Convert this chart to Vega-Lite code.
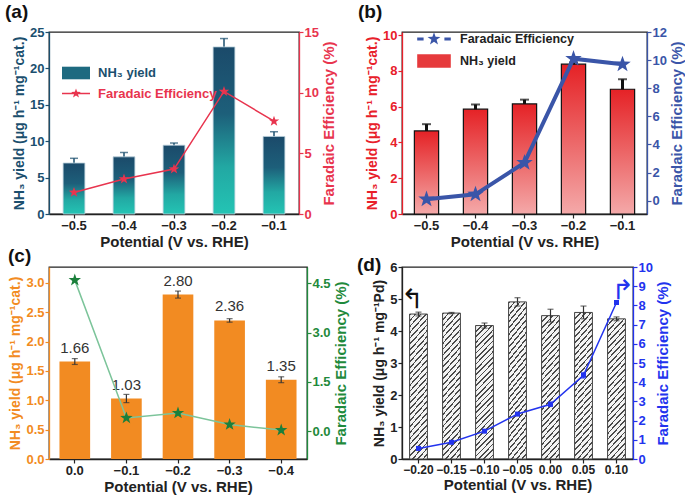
{
"$schema": "https://vega.github.io/schema/vega-lite/v6.json",
"background": "white",
"padding": {"left": 4, "top": 2, "right": 0, "bottom": 0},
"bounds": "flush",
"columns": 2,
"spacing": {"row": 53, "column": 95},
"resolve": {"scale": {"x": "independent", "y": "independent", "color": "independent", "shape": "independent"}, "axis": {"x": "independent", "y": "independent"}, "legend": {"color": "independent", "shape": "independent"}},
"config": {
  "font": "Liberation Sans",
  "view": {"stroke": "#222", "strokeWidth": 1.3},
  "axis": {"labelFont": "Liberation Sans", "titleFont": "Liberation Sans", "labelFontWeight": "bold", "titleFontWeight": "bold", "labelFontSize": 13, "titleFontSize": 14, "grid": false, "tickSize": 4, "tickWidth": 1.2, "domainWidth": 1.3, "domainColor": "#222", "tickColor": "#222", "labelColor": "#222", "titleColor": "#222", "labelPadding": 1, "titlePadding": 3, "labelOverlap": false},
  "axisX": {"labelAngle": 0, "titleFontSize": 15, "titlePadding": 2},
  "title": {"fontSize": 19, "fontWeight": "bold", "font": "Liberation Sans", "anchor": "start", "frame": "group", "offset": 4, "color": "#111"}
},
"concat": [
{
  "width": 250, "height": 182,
  "title": {"text": "(a)", "dx": -44},
  "data": {"values": [
    {"p": "−0.5", "y": 7.0, "e": 0.65, "fe": 1.78, "s": "Faradaic Efficiency"},
    {"p": "−0.4", "y": 7.85, "e": 0.6, "fe": 2.88, "s": "Faradaic Efficiency"},
    {"p": "−0.3", "y": 9.45, "e": 0.3, "fe": 3.7, "s": "Faradaic Efficiency"},
    {"p": "−0.2", "y": 22.95, "e": 1.15, "fe": 10.1, "s": "Faradaic Efficiency"},
    {"p": "−0.1", "y": 10.65, "e": 0.65, "fe": 7.65, "s": "Faradaic Efficiency"}
  ]},
  "encoding": {"x": {"field": "p", "type": "ordinal", "scale": {"domain": ["−0.5", "−0.4", "−0.3", "−0.2", "−0.1"]}, "axis": {"title": "Potential (V vs. RHE)"}}},
  "layer": [
    {"layer": [
      {"mark": {"type": "errorbar", "color": "#1b4f6e", "ticks": {"size": 8, "thickness": 1.5}, "rule": {"strokeWidth": 1.5}},
       "encoding": {"y": {"field": "y", "type": "quantitative", "title": "NH₃ yield (μg h⁻¹ mg⁻¹cat.)", "scale": {"domain": [0, 25], "nice": false}, "axis": {"values": [0, 5, 10, 15, 20, 25], "domainColor": "#1b4f6e", "tickColor": "#1b4f6e", "labelColor": "#1b4f6e", "titleColor": "#1b4f6e"}}, "yError": {"field": "e"}}},
      {"mark": {"type": "bar", "width": {"band": 0.58}, "color": {"gradient": "linear", "x1": 0, "y1": 0, "x2": 0, "y2": 1, "stops": [{"offset": 0, "color": "#1b4a6a"}, {"offset": 0.4, "color": "#1d5f7a"}, {"offset": 0.72, "color": "#22a8a3"}, {"offset": 1, "color": "#24c4b4"}]}, "stroke": "#b9cfdb", "strokeWidth": 0.8},
       "encoding": {"y": {"field": "y", "type": "quantitative", "title": "NH₃ yield (μg h⁻¹ mg⁻¹cat.)", "scale": {"domain": [0, 25], "nice": false}, "axis": {"values": [0, 5, 10, 15, 20, 25], "domainColor": "#1b4f6e", "tickColor": "#1b4f6e", "labelColor": "#1b4f6e", "titleColor": "#1b4f6e"}}}}
    ]},
    {"layer": [
      {"mark": {"type": "line", "strokeWidth": 1.5, "color": "#e8344e"},
       "encoding": {
         "y": {"field": "fe", "type": "quantitative", "title": "Faradaic Efficiency (%)", "scale": {"domain": [0, 15], "nice": false}, "axis": {"orient": "right", "values": [0, 5, 10, 15], "domainColor": "#e8344e", "tickColor": "#e8344e", "labelColor": "#e8344e", "titleColor": "#e8344e", "titleAngle": -90, "titleBaseline": "top", "titleFontSize": 15}}}},
      {"mark": {"type": "point", "filled": true, "opacity": 1},
       "encoding": {
         "y": {"field": "fe", "type": "quantitative", "title": "Faradaic Efficiency (%)", "scale": {"domain": [0, 15], "nice": false}, "axis": {"orient": "right", "values": [0, 5, 10, 15], "domainColor": "#e8344e", "tickColor": "#e8344e", "labelColor": "#e8344e", "titleColor": "#e8344e", "titleAngle": -90, "titleBaseline": "top", "titleFontSize": 15}},
         "color": {"field": "s", "type": "nominal", "scale": {"domain": ["NH₃ yield", "Faradaic Efficiency"], "range": ["#1e6a80", "#e8344e"]},
           "legend": {"title": null, "orient": "none", "legendX": 19, "legendY": 33, "padding": 0, "rowPadding": 1.5, "symbolSize": 196, "labelOffset": 14, "labelFontSize": 13, "labelFontWeight": "bold", "labelFont": "Liberation Sans", "labelColor": {"expr": "datum.value === 'NH₃ yield' ? '#1b4f6e' : '#e8344e'"}, "symbolOpacity": 1}},
         "shape": {"field": "s", "type": "nominal", "scale": {"domain": ["NH₃ yield", "Faradaic Efficiency"], "range": ["M-2,-0.9H2V0.9H-2Z", "M-2,-0.1H2V0.1H-2Z M0,-0.72L0.169,-0.233L0.685,-0.222L0.274,0.089L0.423,0.582L0,0.288L-0.423,0.582L-0.274,0.089L-0.685,-0.222L-0.169,-0.233Z"]},
           "legend": {"title": null, "orient": "none", "legendX": 19, "legendY": 33, "padding": 0, "rowPadding": 1.5, "symbolSize": 196, "labelOffset": 14, "labelFontSize": 13, "labelFontWeight": "bold", "labelFont": "Liberation Sans", "labelColor": {"expr": "datum.value === 'NH₃ yield' ? '#1b4f6e' : '#e8344e'"}, "symbolOpacity": 1}},
         "size": {"value": 0}}},
      {"mark": {"type": "point", "shape": "M0,-1L0.235,-0.324L0.951,-0.309L0.38,0.124L0.588,0.809L0,0.4L-0.588,0.809L-0.38,0.124L-0.951,-0.309L-0.235,-0.324Z", "filled": true, "size": 121, "opacity": 1, "color": "#e8344e"},
       "encoding": {"y": {"field": "fe", "type": "quantitative", "title": "Faradaic Efficiency (%)", "scale": {"domain": [0, 15], "nice": false}, "axis": {"orient": "right", "values": [0, 5, 10, 15], "domainColor": "#e8344e", "tickColor": "#e8344e", "labelColor": "#e8344e", "titleColor": "#e8344e", "titleAngle": -90, "titleBaseline": "top", "titleFontSize": 15}}}}
    ]}
  ],
  "resolve": {"scale": {"y": "independent"}}
},
{
  "width": 245, "height": 182,
  "title": {"text": "(b)", "dx": -44},
  "data": {"values": [
    {"p": "−0.5", "y": 4.64, "e": 0.38, "fe": 0.1, "s": "Faradaic Efficiency"},
    {"p": "−0.4", "y": 5.86, "e": 0.26, "fe": 0.45, "s": "Faradaic Efficiency"},
    {"p": "−0.3", "y": 6.15, "e": 0.24, "fe": 2.7, "s": "Faradaic Efficiency"},
    {"p": "−0.2", "y": 8.37, "e": 0.1, "fe": 10.1, "s": "Faradaic Efficiency"},
    {"p": "−0.1", "y": 6.97, "e": 0.56, "fe": 9.7, "s": "Faradaic Efficiency"}
  ]},
  "encoding": {"x": {"field": "p", "type": "ordinal", "scale": {"domain": ["−0.5", "−0.4", "−0.3", "−0.2", "−0.1"]}, "axis": {"title": "Potential (V vs. RHE)"}}},
  "layer": [
    {"layer": [
      {"mark": {"type": "errorbar", "color": "#111", "ticks": {"size": 9, "thickness": 2}, "rule": {"strokeWidth": 3}},
       "encoding": {"y": {"field": "y", "type": "quantitative", "title": "NH₃ yield (μg h⁻¹ mg⁻¹cat.)", "scale": {"domain": [0, 10.17], "nice": false}, "axis": {"values": [0, 2, 4, 6, 8, 10], "domainColor": "#e8202a", "tickColor": "#e8202a", "labelColor": "#e8202a", "titleColor": "#e8202a"}}, "yError": {"field": "e"}}},
      {"mark": {"type": "bar", "width": {"band": 0.66}, "color": {"gradient": "linear", "x1": 0, "y1": 0, "x2": 0, "y2": 1, "stops": [{"offset": 0, "color": "#e52226"}, {"offset": 0.5, "color": "#ec6566"}, {"offset": 1, "color": "#f4a9a9"}]}, "stroke": "#111", "strokeWidth": 1.2},
       "encoding": {"y": {"field": "y", "type": "quantitative", "title": "NH₃ yield (μg h⁻¹ mg⁻¹cat.)", "scale": {"domain": [0, 10.17], "nice": false}, "axis": {"values": [0, 2, 4, 6, 8, 10], "domainColor": "#e8202a", "tickColor": "#e8202a", "labelColor": "#e8202a", "titleColor": "#e8202a"}}}}
    ]},
    {"layer": [
      {"mark": {"type": "line", "strokeWidth": 4, "color": "#3a55a8"},
       "encoding": {
         "y": {"field": "fe", "type": "quantitative", "title": "Faradaic Efficiency (%)", "scale": {"domain": [-0.95, 12], "nice": false, "zero": false}, "axis": {"orient": "right", "values": [0, 2, 4, 6, 8, 10, 12], "domainColor": "#3a55a8", "tickColor": "#3a55a8", "labelColor": "#3a55a8", "titleColor": "#3a55a8", "titleAngle": -90, "titleBaseline": "top", "titleFontSize": 15}}}},
      {"mark": {"type": "point", "filled": true, "opacity": 1},
       "encoding": {
         "y": {"field": "fe", "type": "quantitative", "title": "Faradaic Efficiency (%)", "scale": {"domain": [-0.95, 12], "nice": false, "zero": false}, "axis": {"orient": "right", "values": [0, 2, 4, 6, 8, 10, 12], "domainColor": "#3a55a8", "tickColor": "#3a55a8", "labelColor": "#3a55a8", "titleColor": "#3a55a8", "titleAngle": -90, "titleBaseline": "top", "titleFontSize": 15}},
         "color": {"field": "s", "type": "nominal", "scale": {"domain": ["Faradaic Efficiency", "NH₃ yield"], "range": ["#3a55a8", "#e63a3c"]},
           "legend": {"title": null, "orient": "none", "legendX": 23, "legendY": -2, "padding": 0, "rowPadding": 3, "symbolSize": 256, "labelOffset": 17, "labelFontSize": 12.5, "labelFontWeight": "bold", "labelFont": "Liberation Sans", "labelColor": "#222", "symbolOpacity": 1}},
         "shape": {"field": "s", "type": "nominal", "scale": {"domain": ["Faradaic Efficiency", "NH₃ yield"], "range": ["M-2.1,-0.2H-1.3V0.2H-2.1Z M1.3,-0.2H2.1V0.2H1.3Z M0,-0.85L0.2,-0.275L0.808,-0.263L0.323,0.105L0.5,0.688L0,0.34L-0.5,0.688L-0.323,0.105L-0.808,-0.263L-0.2,-0.275Z", "M-2.1,-0.85H2.1V0.85H-2.1Z"]},
           "legend": {"title": null, "orient": "none", "legendX": 23, "legendY": -2, "padding": 0, "rowPadding": 3, "symbolSize": 256, "labelOffset": 17, "labelFontSize": 12.5, "labelFontWeight": "bold", "labelFont": "Liberation Sans", "labelColor": "#222", "symbolOpacity": 1}},
         "size": {"value": 0}}},
      {"mark": {"type": "point", "shape": "M0,-1L0.235,-0.324L0.951,-0.309L0.38,0.124L0.588,0.809L0,0.4L-0.588,0.809L-0.38,0.124L-0.951,-0.309L-0.235,-0.324Z", "filled": true, "size": 300, "opacity": 1, "color": "#3a55a8"},
       "encoding": {"y": {"field": "fe", "type": "quantitative", "title": "Faradaic Efficiency (%)", "scale": {"domain": [-0.95, 12], "nice": false, "zero": false}, "axis": {"orient": "right", "values": [0, 2, 4, 6, 8, 10, 12], "domainColor": "#3a55a8", "tickColor": "#3a55a8", "labelColor": "#3a55a8", "titleColor": "#3a55a8", "titleAngle": -90, "titleBaseline": "top", "titleFontSize": 15}}}}
    ]}
  ],
  "resolve": {"scale": {"y": "independent"}}
},
{
  "width": 258, "height": 192,
  "title": {"text": "(c)", "dx": -41, "offset": 1},
  "data": {"values": [
    {"p": "0.0", "y": 1.66, "e": 0.05, "fe": 4.6},
    {"p": "−0.1", "y": 1.03, "e": 0.07, "fe": 0.4},
    {"p": "−0.2", "y": 2.8, "e": 0.06, "fe": 0.55},
    {"p": "−0.3", "y": 2.36, "e": 0.03, "fe": 0.2},
    {"p": "−0.4", "y": 1.35, "e": 0.05, "fe": 0.03}
  ]},
  "encoding": {"x": {"field": "p", "type": "ordinal", "scale": {"domain": ["0.0", "−0.1", "−0.2", "−0.3", "−0.4"]}, "axis": {"title": "Potential (V vs. RHE)"}}},
  "layer": [
    {"layer": [
      {"mark": {"type": "bar", "width": {"band": 0.66}, "color": "#f28b22"},
       "encoding": {"y": {"field": "y", "type": "quantitative", "title": "NH₃ yield (μg h⁻¹ mg⁻¹cat.)", "scale": {"domain": [0, 3.27], "nice": false}, "axis": {"values": [0, 0.5, 1, 1.5, 2, 2.5, 3], "format": ".1f", "domainColor": "#f28b22", "tickColor": "#f28b22", "labelColor": "#f28b22", "titleColor": "#f28b22"}}}},
      {"mark": {"type": "errorbar", "color": "#333", "ticks": {"size": 6, "thickness": 1.2}, "rule": {"strokeWidth": 1.2}},
       "encoding": {"y": {"field": "y", "type": "quantitative", "title": "NH₃ yield (μg h⁻¹ mg⁻¹cat.)", "scale": {"domain": [0, 3.27], "nice": false}, "axis": {"values": [0, 0.5, 1, 1.5, 2, 2.5, 3], "format": ".1f", "domainColor": "#f28b22", "tickColor": "#f28b22", "labelColor": "#f28b22", "titleColor": "#f28b22"}}, "yError": {"field": "e"}}},
      {"mark": {"type": "text", "baseline": "bottom", "dy": -6, "fontSize": 15, "color": "#333", "font": "Liberation Sans"},
       "encoding": {"y": {"field": "y", "type": "quantitative", "title": "NH₃ yield (μg h⁻¹ mg⁻¹cat.)", "scale": {"domain": [0, 3.27], "nice": false}, "axis": {"values": [0, 0.5, 1, 1.5, 2, 2.5, 3], "format": ".1f", "domainColor": "#f28b22", "tickColor": "#f28b22", "labelColor": "#f28b22", "titleColor": "#f28b22"}}, "text": {"field": "y", "type": "quantitative", "format": ".2f"}}}
    ]},
    {"layer": [
      {"mark": {"type": "line", "strokeWidth": 1.5, "color": "#7cc49a"},
       "encoding": {"y": {"field": "fe", "type": "quantitative", "title": "Faradaic Efficiency (%)", "scale": {"domain": [-0.85, 5.0], "nice": false, "zero": false}, "axis": {"orient": "right", "values": [0, 1.5, 3, 4.5], "format": ".1f", "domainColor": "#1f8a3c", "tickColor": "#1f8a3c", "labelColor": "#1f8a3c", "titleColor": "#1f8a3c", "titleAngle": -90, "titleBaseline": "top", "titleFontSize": 15}}}},
      {"mark": {"type": "point", "shape": "M0,-1L0.235,-0.324L0.951,-0.309L0.38,0.124L0.588,0.809L0,0.4L-0.588,0.809L-0.38,0.124L-0.951,-0.309L-0.235,-0.324Z", "filled": true, "size": 170, "opacity": 1, "color": "#1b7f3b"},
       "encoding": {"y": {"field": "fe", "type": "quantitative", "title": "Faradaic Efficiency (%)", "scale": {"domain": [-0.85, 5.0], "nice": false, "zero": false}, "axis": {"orient": "right", "values": [0, 1.5, 3, 4.5], "format": ".1f", "domainColor": "#1f8a3c", "tickColor": "#1f8a3c", "labelColor": "#1f8a3c", "titleColor": "#1f8a3c", "titleAngle": -90, "titleBaseline": "top", "titleFontSize": 15}}}}
    ]}
  ],
  "resolve": {"scale": {"y": "independent"}}
},
{
  "width": 231, "height": 192,
  "title": {"text": "(d)", "dx": -45, "dy": 18},
  "data": {"values": [
    {"p": "−0.20", "y": 4.53, "e": 0.06, "fe": 0.55, "fee": 0.06},
    {"p": "−0.15", "y": 4.56, "e": 0.02, "fe": 0.87, "fee": 0.06},
    {"p": "−0.10", "y": 4.17, "e": 0.08, "fe": 1.45, "fee": 0.06},
    {"p": "−0.05", "y": 4.91, "e": 0.13, "fe": 2.34, "fee": 0.08},
    {"p": "0.00", "y": 4.48, "e": 0.2, "fe": 2.85, "fee": 0.12},
    {"p": "0.05", "y": 4.58, "e": 0.2, "fe": 4.36, "fee": 0.15},
    {"p": "0.10", "y": 4.38, "e": 0.06, "fe": 8.15, "fee": 0.1}
  ]},
  "encoding": {"x": {"field": "p", "type": "ordinal", "scale": {"domain": ["−0.20", "−0.15", "−0.10", "−0.05", "0.00", "0.05", "0.10"]}, "axis": {"title": "Potential (V vs. RHE)", "labelFontSize": 12}}},
  "layer": [
    {"layer": [
      {"mark": {"type": "bar", "width": {"band": 0.6}, "stroke": "#444", "strokeWidth": 1, "color": {"gradient": "linear", "x1": 0, "y1": 0, "x2": 0.154, "y2": 1.117, "stops": [
        {"offset": 0, "color": "#4a4a4a"}, {"offset": 0.011, "color": "#4a4a4a"}, {"offset": 0.011, "color": "#f4f4f4"},
        {"offset": 0.0357, "color": "#f4f4f4"}, {"offset": 0.0357, "color": "#4a4a4a"}, {"offset": 0.0467, "color": "#4a4a4a"}, {"offset": 0.0467, "color": "#f4f4f4"},
        {"offset": 0.0714, "color": "#f4f4f4"}, {"offset": 0.0714, "color": "#4a4a4a"}, {"offset": 0.0824, "color": "#4a4a4a"}, {"offset": 0.0824, "color": "#f4f4f4"},
        {"offset": 0.1071, "color": "#f4f4f4"}, {"offset": 0.1071, "color": "#4a4a4a"}, {"offset": 0.1181, "color": "#4a4a4a"}, {"offset": 0.1181, "color": "#f4f4f4"},
        {"offset": 0.1429, "color": "#f4f4f4"}, {"offset": 0.1429, "color": "#4a4a4a"}, {"offset": 0.1539, "color": "#4a4a4a"}, {"offset": 0.1539, "color": "#f4f4f4"},
        {"offset": 0.1786, "color": "#f4f4f4"}, {"offset": 0.1786, "color": "#4a4a4a"}, {"offset": 0.1896, "color": "#4a4a4a"}, {"offset": 0.1896, "color": "#f4f4f4"},
        {"offset": 0.2143, "color": "#f4f4f4"}, {"offset": 0.2143, "color": "#4a4a4a"}, {"offset": 0.2253, "color": "#4a4a4a"}, {"offset": 0.2253, "color": "#f4f4f4"},
        {"offset": 0.25, "color": "#f4f4f4"}, {"offset": 0.25, "color": "#4a4a4a"}, {"offset": 0.261, "color": "#4a4a4a"}, {"offset": 0.261, "color": "#f4f4f4"},
        {"offset": 0.2857, "color": "#f4f4f4"}, {"offset": 0.2857, "color": "#4a4a4a"}, {"offset": 0.2967, "color": "#4a4a4a"}, {"offset": 0.2967, "color": "#f4f4f4"},
        {"offset": 0.3214, "color": "#f4f4f4"}, {"offset": 0.3214, "color": "#4a4a4a"}, {"offset": 0.3324, "color": "#4a4a4a"}, {"offset": 0.3324, "color": "#f4f4f4"},
        {"offset": 0.3571, "color": "#f4f4f4"}, {"offset": 0.3571, "color": "#4a4a4a"}, {"offset": 0.3681, "color": "#4a4a4a"}, {"offset": 0.3681, "color": "#f4f4f4"},
        {"offset": 0.3929, "color": "#f4f4f4"}, {"offset": 0.3929, "color": "#4a4a4a"}, {"offset": 0.4039, "color": "#4a4a4a"}, {"offset": 0.4039, "color": "#f4f4f4"},
        {"offset": 0.4286, "color": "#f4f4f4"}, {"offset": 0.4286, "color": "#4a4a4a"}, {"offset": 0.4396, "color": "#4a4a4a"}, {"offset": 0.4396, "color": "#f4f4f4"},
        {"offset": 0.4643, "color": "#f4f4f4"}, {"offset": 0.4643, "color": "#4a4a4a"}, {"offset": 0.4753, "color": "#4a4a4a"}, {"offset": 0.4753, "color": "#f4f4f4"},
        {"offset": 0.5, "color": "#f4f4f4"}, {"offset": 0.5, "color": "#4a4a4a"}, {"offset": 0.511, "color": "#4a4a4a"}, {"offset": 0.511, "color": "#f4f4f4"},
        {"offset": 0.5357, "color": "#f4f4f4"}, {"offset": 0.5357, "color": "#4a4a4a"}, {"offset": 0.5467, "color": "#4a4a4a"}, {"offset": 0.5467, "color": "#f4f4f4"},
        {"offset": 0.5714, "color": "#f4f4f4"}, {"offset": 0.5714, "color": "#4a4a4a"}, {"offset": 0.5824, "color": "#4a4a4a"}, {"offset": 0.5824, "color": "#f4f4f4"},
        {"offset": 0.6071, "color": "#f4f4f4"}, {"offset": 0.6071, "color": "#4a4a4a"}, {"offset": 0.6181, "color": "#4a4a4a"}, {"offset": 0.6181, "color": "#f4f4f4"},
        {"offset": 0.6429, "color": "#f4f4f4"}, {"offset": 0.6429, "color": "#4a4a4a"}, {"offset": 0.6539, "color": "#4a4a4a"}, {"offset": 0.6539, "color": "#f4f4f4"},
        {"offset": 0.6786, "color": "#f4f4f4"}, {"offset": 0.6786, "color": "#4a4a4a"}, {"offset": 0.6896, "color": "#4a4a4a"}, {"offset": 0.6896, "color": "#f4f4f4"},
        {"offset": 0.7143, "color": "#f4f4f4"}, {"offset": 0.7143, "color": "#4a4a4a"}, {"offset": 0.7253, "color": "#4a4a4a"}, {"offset": 0.7253, "color": "#f4f4f4"},
        {"offset": 0.75, "color": "#f4f4f4"}, {"offset": 0.75, "color": "#4a4a4a"}, {"offset": 0.761, "color": "#4a4a4a"}, {"offset": 0.761, "color": "#f4f4f4"},
        {"offset": 0.7857, "color": "#f4f4f4"}, {"offset": 0.7857, "color": "#4a4a4a"}, {"offset": 0.7967, "color": "#4a4a4a"}, {"offset": 0.7967, "color": "#f4f4f4"},
        {"offset": 0.8214, "color": "#f4f4f4"}, {"offset": 0.8214, "color": "#4a4a4a"}, {"offset": 0.8324, "color": "#4a4a4a"}, {"offset": 0.8324, "color": "#f4f4f4"},
        {"offset": 0.8571, "color": "#f4f4f4"}, {"offset": 0.8571, "color": "#4a4a4a"}, {"offset": 0.8681, "color": "#4a4a4a"}, {"offset": 0.8681, "color": "#f4f4f4"},
        {"offset": 0.8929, "color": "#f4f4f4"}, {"offset": 0.8929, "color": "#4a4a4a"}, {"offset": 0.9039, "color": "#4a4a4a"}, {"offset": 0.9039, "color": "#f4f4f4"},
        {"offset": 0.9286, "color": "#f4f4f4"}, {"offset": 0.9286, "color": "#4a4a4a"}, {"offset": 0.9396, "color": "#4a4a4a"}, {"offset": 0.9396, "color": "#f4f4f4"},
        {"offset": 0.9643, "color": "#f4f4f4"}, {"offset": 0.9643, "color": "#4a4a4a"}, {"offset": 0.9753, "color": "#4a4a4a"}, {"offset": 0.9753, "color": "#f4f4f4"},
        {"offset": 1, "color": "#f4f4f4"}]}},
       "encoding": {"y": {"field": "y", "type": "quantitative", "title": "NH₃ yield (μg h⁻¹ mg⁻¹Pd)", "scale": {"domain": [0, 6], "nice": false}, "axis": {"values": [0, 1, 2, 3, 4, 5, 6]}}}},
      {"mark": {"type": "errorbar", "color": "#333", "ticks": {"size": 6, "thickness": 1.2}, "rule": {"strokeWidth": 1.2}},
       "encoding": {"y": {"field": "y", "type": "quantitative", "title": "NH₃ yield (μg h⁻¹ mg⁻¹Pd)", "scale": {"domain": [0, 6], "nice": false}, "axis": {"values": [0, 1, 2, 3, 4, 5, 6]}}, "yError": {"field": "e"}}},
      {"data": {"values": [{"p": "−0.20", "y": 4.98, "t": "↰"}]},
       "mark": {"type": "text", "align": "right", "baseline": "middle", "dx": 5, "fontSize": 27, "font": "DejaVu Sans", "color": "#111"},
       "encoding": {"y": {"field": "y", "type": "quantitative", "title": "NH₃ yield (μg h⁻¹ mg⁻¹Pd)", "scale": {"domain": [0, 6], "nice": false}, "axis": {"values": [0, 1, 2, 3, 4, 5, 6]}}, "text": {"field": "t"}}}
    ]},
    {"layer": [
      {"mark": {"type": "line", "strokeWidth": 1.5, "color": "#2233ee"},
       "encoding": {"y": {"field": "fe", "type": "quantitative", "title": "Faradaic Efficiency (%)", "scale": {"domain": [0, 10], "nice": false}, "axis": {"orient": "right", "values": [0, 1, 2, 3, 4, 5, 6, 7, 8, 9, 10], "domainColor": "#2233ee", "tickColor": "#2233ee", "labelColor": "#2233ee", "titleColor": "#2233ee", "titleAngle": -90, "titleBaseline": "top", "titleFontSize": 15}}}},
      {"mark": {"type": "errorbar", "color": "#2233ee", "ticks": {"size": 5, "thickness": 1}, "rule": {"strokeWidth": 1}},
       "encoding": {"y": {"field": "fe", "type": "quantitative", "title": "Faradaic Efficiency (%)", "scale": {"domain": [0, 10], "nice": false}, "axis": {"orient": "right", "values": [0, 1, 2, 3, 4, 5, 6, 7, 8, 9, 10], "domainColor": "#2233ee", "tickColor": "#2233ee", "labelColor": "#2233ee", "titleColor": "#2233ee", "titleAngle": -90, "titleBaseline": "top", "titleFontSize": 15}}, "yError": {"field": "fee"}}},
      {"mark": {"type": "point", "shape": "square", "filled": true, "size": 25, "opacity": 1, "color": "#2233ee"},
       "encoding": {"y": {"field": "fe", "type": "quantitative", "title": "Faradaic Efficiency (%)", "scale": {"domain": [0, 10], "nice": false}, "axis": {"orient": "right", "values": [0, 1, 2, 3, 4, 5, 6, 7, 8, 9, 10], "domainColor": "#2233ee", "tickColor": "#2233ee", "labelColor": "#2233ee", "titleColor": "#2233ee", "titleAngle": -90, "titleBaseline": "top", "titleFontSize": 15}}}},
      {"data": {"values": [{"p": "0.10", "fe": 8.75, "t": "↱"}]},
       "mark": {"type": "text", "align": "left", "baseline": "middle", "dx": -5, "fontSize": 27, "font": "DejaVu Sans", "color": "#2233ee"},
       "encoding": {"y": {"field": "fe", "type": "quantitative", "title": "Faradaic Efficiency (%)", "scale": {"domain": [0, 10], "nice": false}, "axis": {"orient": "right", "values": [0, 1, 2, 3, 4, 5, 6, 7, 8, 9, 10], "domainColor": "#2233ee", "tickColor": "#2233ee", "labelColor": "#2233ee", "titleColor": "#2233ee", "titleAngle": -90, "titleBaseline": "top", "titleFontSize": 15}}, "text": {"field": "t"}}}
    ]}
  ],
  "resolve": {"scale": {"y": "independent"}}
}
]
}
